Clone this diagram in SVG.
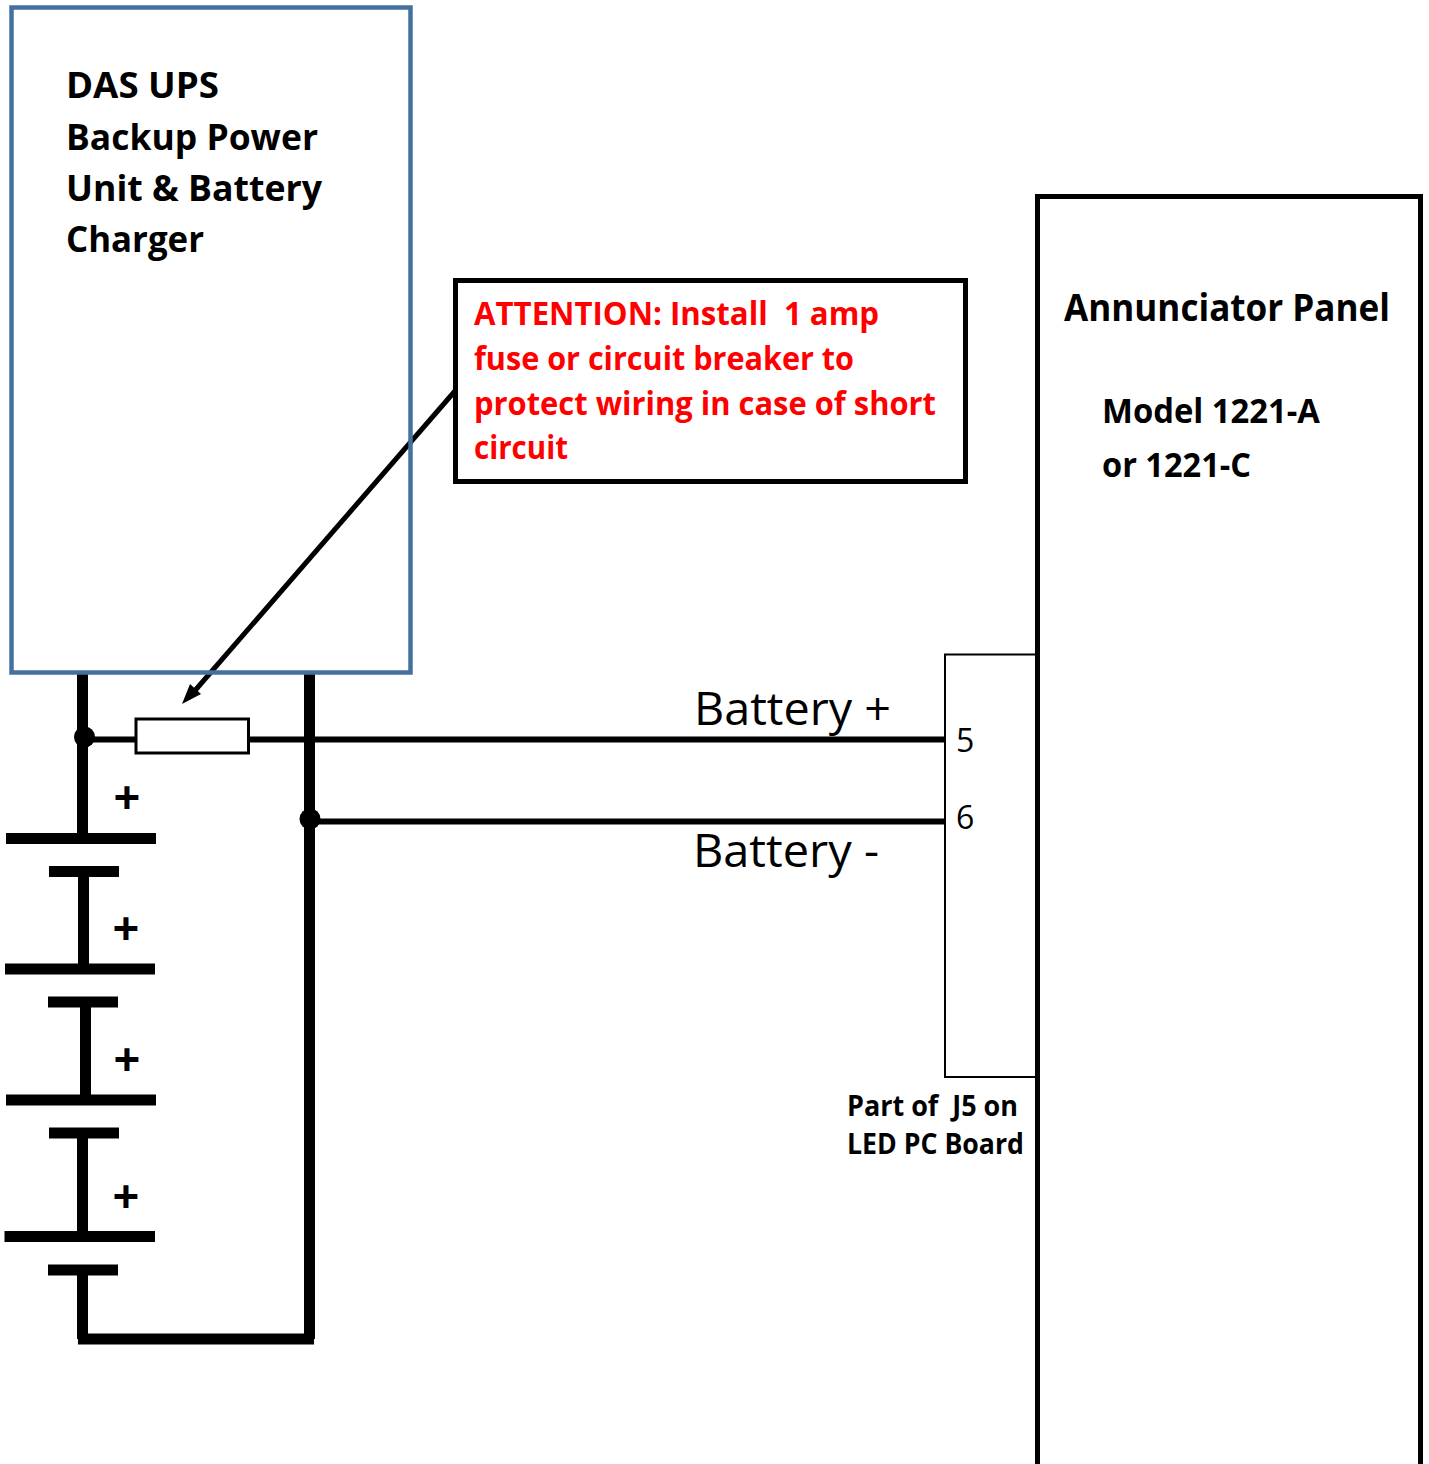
<svg xmlns="http://www.w3.org/2000/svg" width="1429" height="1464" viewBox="0 0 1429 1464">
<style>
text{font-family:"Open Sans","Noto Sans","Liberation Sans",sans-serif;fill:#000;white-space:pre}
.b{font-weight:700}
.t{font-size:36px}
.r{font-size:33px;font-weight:700;fill:#f00}
.w{stroke:#000;fill:none;stroke-width:11}
.w5{stroke:#000;fill:none;stroke-width:6}
.p{font-size:47px;font-weight:700}
</style>
<rect width="1429" height="1464" fill="#fff"/>
<g id="connectors">
<path class="w" d="M82.500 672V838M83.500 872V969M85.500 1000V1100M82.500 1133V1236M82.500 1270V1339M309.500 672V1339M78 1339H314"/>
<path class="w5" d="M84 739.500H945M310 821.500H945"/>
<circle cx="84.500" cy="737" r="10.500"/><circle cx="310" cy="819" r="10.500"/>
<path d="M455 391L192 694" stroke="#000" stroke-width="5" fill="none"/>
<path d="M182 704L190 684L201 694Z" fill="#000"/>
</g>
<g id="ups"><rect x="11.500" y="7.500" width="399" height="665" fill="none" stroke="#44719f" stroke-width="4.500"/>
<text class="b t" x="66" y="98" textLength="153" lengthAdjust="spacingAndGlyphs">DAS UPS</text><text class="b t" x="66" y="150" textLength="252" lengthAdjust="spacingAndGlyphs">Backup Power</text><text class="b t" x="66" y="201" textLength="256" lengthAdjust="spacingAndGlyphs">Unit &amp; Battery</text><text class="b t" x="66" y="252" textLength="138" lengthAdjust="spacingAndGlyphs">Charger</text></g>
<g id="attention"><rect x="455.500" y="280.500" width="510" height="201" fill="#fff" stroke="#000" stroke-width="5"/>
<text class="r" x="474" y="325" textLength="405" lengthAdjust="spacingAndGlyphs">ATTENTION: Install  1 amp</text><text class="r" x="474" y="370" textLength="380" lengthAdjust="spacingAndGlyphs">fuse or circuit breaker to</text><text class="r" x="474" y="415" textLength="462" lengthAdjust="spacingAndGlyphs">protect wiring in case of short</text><text class="r" x="474" y="459" textLength="94" lengthAdjust="spacingAndGlyphs">circuit</text></g>
<g id="fuse"><rect x="136" y="719" width="112.500" height="34" fill="#fff" stroke="#000" stroke-width="3"/></g>
<g id="battery" stroke="#000" stroke-width="11">
<path d="M6 838.500H156M49 871.500H119M5 969H155M48 1002H118M6 1100H156M49 1133H119M4.500 1236.500H155M48 1270H118"/>
</g>
<g id="plus"><text class="p" x="127" y="814" text-anchor="middle">+</text><text class="p" x="126" y="945" text-anchor="middle">+</text><text class="p" x="127" y="1076" text-anchor="middle">+</text><text class="p" x="126" y="1213" text-anchor="middle">+</text></g>
<g id="panel"><rect x="1037.500" y="196.500" width="383" height="1275" fill="none" stroke="#000" stroke-width="5"/>
<text class="b" font-size="37" x="1064" y="321" textLength="326" lengthAdjust="spacingAndGlyphs">Annunciator Panel</text><text class="b" font-size="34" x="1102" y="423" textLength="218" lengthAdjust="spacingAndGlyphs">Model 1221-A</text><text class="b" font-size="34" x="1102" y="477" textLength="149" lengthAdjust="spacingAndGlyphs">or 1221-C</text></g>
<g id="j5"><rect x="945" y="654.500" width="91" height="422.500" fill="#fff" stroke="#000" stroke-width="2"/>
<text font-size="32" x="956" y="752">5</text><text font-size="32" x="956" y="829">6</text></g>
<g id="labels"><text font-size="46" x="694" y="725" textLength="197" lengthAdjust="spacingAndGlyphs">Battery +</text><text font-size="46" x="693" y="867" textLength="186" lengthAdjust="spacingAndGlyphs">Battery -</text>
<text class="b" font-size="29" x="847" y="1116" textLength="171" lengthAdjust="spacingAndGlyphs">Part of  J5 on</text><text class="b" font-size="29" x="847" y="1154" textLength="177" lengthAdjust="spacingAndGlyphs">LED PC Board</text></g>
</svg>
